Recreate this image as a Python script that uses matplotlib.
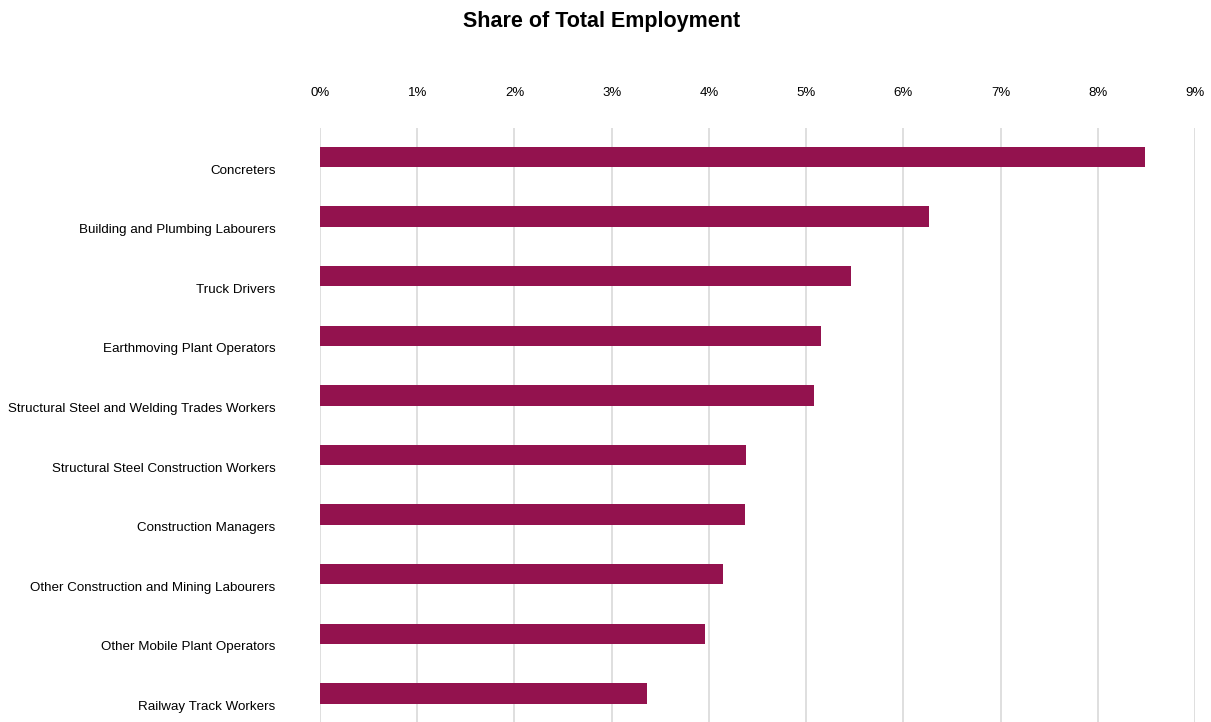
import matplotlib
matplotlib.use("Agg")
import matplotlib.pyplot as plt
import matplotlib.transforms as mtransforms
import numpy as np

plt.rcParams['font.family'] = ['Liberation Sans', 'DejaVu Sans']

occupations = [
    "Concreters",
    "Building and Plumbing Labourers",
    "Truck Drivers",
    "Earthmoving Plant Operators",
    "Structural Steel and Welding Trades Workers",
    "Structural Steel Construction Workers",
    "Construction Managers",
    "Other Construction and Mining Labourers",
    "Other Mobile Plant Operators",
    "Railway Track Workers",
]
share = [8.49, 6.26, 5.46, 5.15, 5.08, 4.38, 4.37, 4.15, 3.96, 3.36]
xticks = list(range(0, 10))

fig = plt.figure(figsize=(12.11, 7.22), dpi=100)
ax = fig.add_axes([320 / 1211, 0, 875 / 1211, 1 - 128 / 722])

y = np.arange(len(occupations))
ax.barh(y, share, height=0.34, color="#93124e", zorder=3)

ax.set_xlim(0, 9)
ax.set_ylim(9.48, -0.487)
ax.set_xticks(xticks)
ax.set_xticklabels([f"{t}%" for t in xticks], fontsize=9.5)
ax.xaxis.tick_top()
ax.tick_params(axis="x", length=0, pad=21)
ax.tick_params(axis="y", length=0, pad=32)
ax.set_yticks(y)
ax.set_yticklabels(occupations, fontsize=9.65)

# labels sit a little below the bars in the original
offset = mtransforms.ScaledTranslation(0, -12 / 100, fig.dpi_scale_trans)
for lbl in ax.get_yticklabels():
    lbl.set_transform(lbl.get_transform() + offset)

ax.grid(axis="x", color="#d9d9d9", linewidth=1.2, zorder=0)
for s in ax.spines.values():
    s.set_visible(False)

fig.suptitle("Share of Total Employment", fontsize=15.5, fontweight="bold", x=602 / 1211, y=1 - 21 / 722, va="center")

fig.savefig("out.png", dpi=100)
